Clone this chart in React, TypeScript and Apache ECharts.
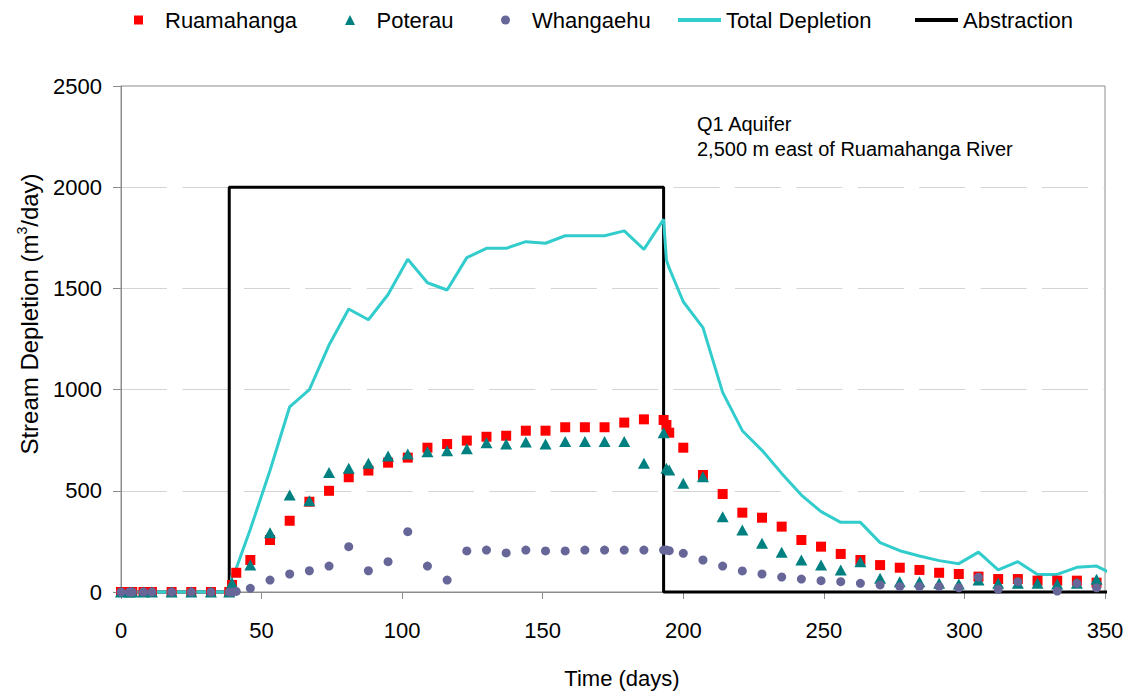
import React, { useEffect, useRef } from "react";
import * as echarts from "echarts";

const DAYS = [
  0, 3, 4, 8, 11, 18, 25, 32, 38.5, 39.5, 41, 46, 53, 60, 67, 74, 81, 88, 95, 102,
  109, 116, 123, 130, 137, 144, 151, 158, 165, 172, 179, 186, 193, 194, 195, 200,
  207, 214, 221, 228, 235, 242, 249, 256, 263, 270, 277, 284, 291, 298, 305, 312,
  319, 326, 333, 340, 347, 353,
];

const RUAMAHANGA: (number | null)[] = [
  0, 0, 0, 0, 0, 0, 0, 0, 0, 35, 95, 158, 257, 352, 446, 500, 567, 600, 639, 664,
  713, 731, 748, 767, 772, 797, 797, 814, 814, 814, 837, 853, 850, 825, 787, 713,
  578, 484, 392, 367, 323, 257, 224, 188, 158, 133, 120, 109, 95, 89, 76, 64,
  64, 56, 56, 56, 46, null,
];

const POTERAU: (number | null)[] = [
  0, 0, 0, 0, 0, 0, 0, 0, 0, 45, null, 133, 293, 479, 451, 590, 611, 636, 672, 682,
  693, 698, 708, 738, 731, 741, 731, 744, 744, 744, 744, 636, 787, 611, 603, 537,
  570, 372, 306, 241, 196, 158, 133, 109, 150, 68, 51, 51, 43, 40, 59, 43,
  43, 43, 40, 43, 63, null,
];

const WHANGAEHU: (number | null)[] = [
  0, 0, 0, 0, 0, 0, 0, 0, 0, 0, 3, 18, 59, 89, 105, 128, 224, 105, 150, 298,
  128, 59, 203, 207, 193, 207, 203, 203, 207, 207, 207, 207, 207, 207, 204, 191,
  158, 128, 104, 89, 74, 64, 56, 51, 43, 35, 27, 27, 27, 21, 73, 13,
  51, null, 5, 43, 21, null,
];

const TOTAL_DEPLETION: (number | null)[] = [
  0, 0, 0, 0, 0, 0, 0, 0, 0, 80, 117, 310, 600, 915, 1000, 1220, 1398, 1345, 1470, 1644,
  1528, 1492, 1652, 1698, 1698, 1731, 1723, 1760, 1760, 1760, 1784, 1693, 1841, 1640, 1600, 1434,
  1306, 986, 797, 700, 586, 479, 397, 344, 344, 244, 204, 178, 155, 140, 197, 109,
  150, 87, 87, 122, 128, 87,
];

const ABSTRACTION_DAYS = [0, 38.5, 38.5, 193, 193, 353];
const ABSTRACTION = [0, 0, 2000, 2000, 0, 0];

const LEGEND_NAMES = ["Ruamahanga", "Poterau", "Whangaehu", "Total Depletion", "Abstraction"];

const FONT = "Liberation Sans";

function pairs(xs: number[], ys: (number | null)[]) {
  const out: number[][] = [];
  xs.forEach((x, i) => {
    const y = ys[i];
    if (y !== null && y !== undefined) out.push([x, y]);
  });
  return out;
}

const ICONS: Record<string, string> = {
  Ruamahanga: "path://M0,0H10V10H0Z",
  Poterau: "path://M5,0L10,10H0Z",
  Whangaehu: "path://M5,0A5,5 0 1,1 5,10A5,5 0 1,1 5,0Z",
  "Total Depletion": "path://M0,0H43V4H0Z",
  Abstraction: "path://M0,0H43V4H0Z",
};
const LEGEND_LEFT = [134, 345, 501, 678, 915];

export default function App() {
  const ref = useRef<HTMLDivElement>(null);
  useEffect(() => {
    if (!ref.current) return;
    const chart = echarts.init(ref.current, null, { renderer: "svg" });
    const axisGray = "#8C8C8C";
    const legends = LEGEND_NAMES.map((name, i) => ({
      left: LEGEND_LEFT[i],
      top: 9,
      padding: 0,
      itemWidth: 43,
      itemHeight: name === "Ruamahanga" || name === "Whangaehu" ? 9 : 10,
      symbolKeepAspect: true,
      selectedMode: false,
      textStyle: { fontSize: 22, color: "#000", fontFamily: FONT },
      data: [{ name, icon: ICONS[name] }],
    }));
    chart.setOption({
      animation: false,
      backgroundColor: "#FFFFFF",
      textStyle: { fontFamily: FONT },
      grid: {
        left: 121,
        right: 27,
        top: 86,
        bottom: 101,
        show: true,
        borderColor: axisGray,
        borderWidth: 1,
        backgroundColor: "transparent",
      },
      legend: legends,
      xAxis: {
        type: "value",
        min: 0,
        max: 350,
        interval: 50,
        axisLine: { show: true, lineStyle: { color: axisGray, width: 1 } },
        axisTick: { show: true, inside: false, length: 7, lineStyle: { color: axisGray } },
        axisLabel: { fontSize: 22, color: "#000", margin: 27, fontFamily: FONT, formatter: (v: number) => String(v) },
        splitLine: { show: false },
      },
      yAxis: {
        type: "value",
        min: 0,
        max: 2500,
        interval: 500,
        axisLine: { show: true, lineStyle: { color: axisGray, width: 1 } },
        axisTick: { show: true, inside: false, length: 8, lineStyle: { color: axisGray } },
        axisLabel: { fontSize: 22, color: "#000", margin: 19, fontFamily: FONT, formatter: (v: number) => String(v) },
        splitLine: {
          show: true,
          showMinLine: false,
          showMaxLine: false,
          lineStyle: { color: "#D4D4D4", width: 1, type: [46, 15.4] },
        },
      },
      graphic: [
        {
          type: "text",
          left: 697,
          top: 111,
          style: {
            text: "Q1 Aquifer\n2,500 m east of Ruamahanga River",
            fontSize: 20,
            fontFamily: FONT,
            lineHeight: 25,
            fill: "#000",
          },
        },
        {
          type: "text",
          x: 622,
          y: 678,
          style: {
            text: "Time (days)",
            fontSize: 22,
            fontFamily: FONT,
            fill: "#000",
            align: "center",
            verticalAlign: "middle",
          },
        },
        {
          type: "text",
          x: 28,
          y: 314,
          rotation: Math.PI / 2,
          style: {
            text: "{n|Stream Depletion (m}{s|3}{n|/day)}",
            align: "center",
            verticalAlign: "middle",
            fill: "#000",
            rich: {
              n: { fontSize: 24, fontFamily: FONT, fill: "#000", lineHeight: 26, verticalAlign: "bottom" },
              s: { fontSize: 14, fontFamily: FONT, fill: "#000", lineHeight: 26, verticalAlign: "top" },
            },
          },
        },
      ],
      series: [
        {
          name: "Abstraction",
          type: "line",
          data: pairs(ABSTRACTION_DAYS, ABSTRACTION),
          symbol: "none",
          clip: false,
          lineStyle: { color: "#000000", width: 3 },
          itemStyle: { color: "#000000" },
          z: 2,
        },
        {
          name: "Total Depletion",
          type: "line",
          data: pairs(DAYS, TOTAL_DEPLETION),
          symbol: "none",
          clip: false,
          lineStyle: { color: "#33CCCC", width: 3 },
          itemStyle: { color: "#33CCCC" },
          z: 3,
        },
        {
          name: "Ruamahanga",
          type: "scatter",
          data: pairs(DAYS, RUAMAHANGA),
          symbol: "rect",
          symbolSize: 10,
          itemStyle: { color: "#FF0000", opacity: 1 },
          z: 4,
        },
        {
          name: "Poterau",
          type: "scatter",
          data: pairs(DAYS, POTERAU),
          symbol: "triangle",
          symbolSize: [12, 11],
          itemStyle: { color: "#008080", opacity: 1 },
          z: 5,
        },
        {
          name: "Whangaehu",
          type: "scatter",
          data: pairs(DAYS, WHANGAEHU),
          symbol: "circle",
          symbolSize: 9,
          itemStyle: { color: "#666699", opacity: 1 },
          z: 6,
        },
      ],
    });
    return () => chart.dispose();
  }, []);
  return (
    <div
      ref={ref}
      style={{ position: "absolute", left: 0, top: 0, width: 1132, height: 693, background: "#fff" }}
    />
  );
}
